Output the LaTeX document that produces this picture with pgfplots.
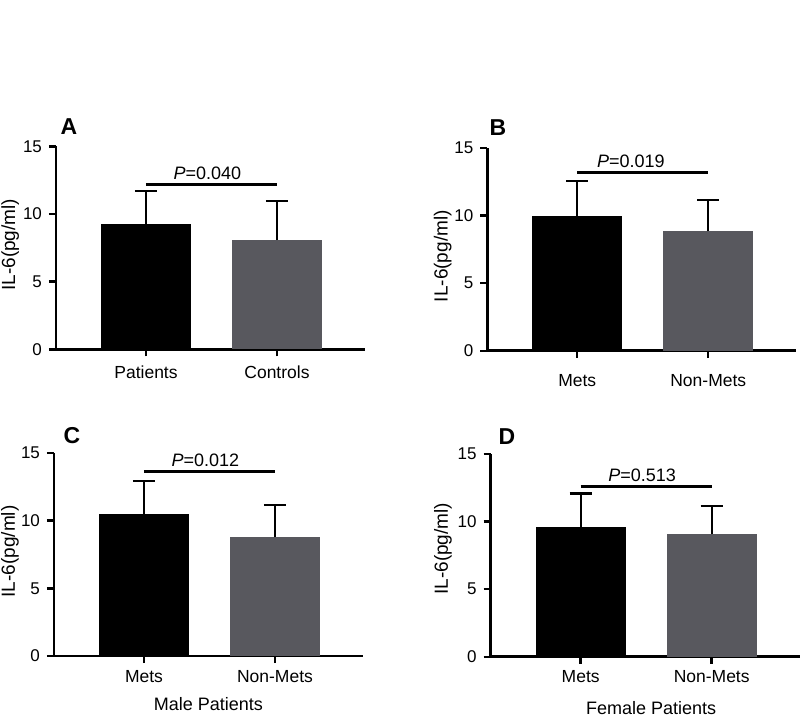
\documentclass[border=0pt]{standalone}
\usepackage{pgfplots}
\pgfplotsset{compat=1.18}
\usepackage{fontspec}
\setmainfont{Liberation Sans}
\definecolor{bargrey}{RGB}{88,88,94}
% error marks of y error bars are rotated by 90 degrees: (0,-s) ends up at (s,0)
\pgfdeclareplotmark{rcap}{%
  \pgfpathmoveto{\pgfqpoint{0pt}{0pt}}%
  \pgfpathlineto{\pgfqpoint{0pt}{-\pgfplotmarksize}}%
  \pgfusepathqstroke}
\pgfplotsset{
  panel/.style={
    scale only axis, width=154.5pt, height=101.5pt,
    xmin=-0.687, xmax=1.672, ymin=0, ymax=15,
    axis lines=left, axis line style={-, line width=1.3pt, black},
    ytick={0,5,10,15}, xtick={0,1},
    tick align=outside, major tick length=3.5pt,
    tick style={line width=1.2pt, black},
    yticklabel style={font=\fontsize{8.5}{10}\selectfont},
    xticklabel style={font=\fontsize{8.75}{10}\selectfont},
    /pgf/number format/assume math mode=true,
    clip=false,
    anchor=south west,
    ylabel={IL-6(pg/ml)},
  },
  ylab/.style 2 args={every axis y label/.style={at={(rel axis cs:0,0.5)}, xshift=#1, yshift=#2, rotate=90, anchor=center, font=\fontsize{9.5}{11}\selectfont}},
  xlab/.style 2 args={every axis x label/.style={at={(rel axis cs:0.5,0)}, xshift=#1, yshift=#2, anchor=center, font=\fontsize{9}{10}\selectfont}},
  mybar/.style={ybar, bar width=45pt, bar shift=0pt, draw=none, fill=#1,
    error bars/.cd, y dir=plus, y explicit,
    error bar style={draw=black, line width=1.1pt},
    error mark=rcap, error mark options={draw=black, line width=1.1pt, mark size=11pt}},
  sig/.style={black, line width=1.5pt, no marks},
}
\begin{document}
\begin{tikzpicture}
\path[use as bounding box] (0pt,0pt) rectangle (402.5pt,360pt);

% Panel A
\begin{axis}[panel, at={(28pt,185.35pt)}, ylab={-22.85pt}{1.5pt},
  xticklabels={Patients,Controls}, xticklabel style={yshift=-1pt}]
\addplot[mybar=black] coordinates {(0,9.23) +- (0,2.47)};
\addplot[mybar=bargrey] coordinates {(1,8.07) +- (0,2.91)};
\addplot[sig] coordinates {(0,12.19) (1,12.19)};
\node[anchor=base, xshift=-2pt, yshift=2.5pt, font=\fontsize{9}{10}\selectfont] at (axis cs:0.5,12.19) {\textit{P}=0.040};
\node[xshift=6.5pt, yshift=10pt, font=\bfseries\fontsize{11.5}{13}\selectfont] at (rel axis cs:0,1) {A};
\end{axis}

% Panel B
\begin{axis}[panel, at={(243.65pt,184.65pt)}, ylab={-22.3pt}{-3.5pt},
  xticklabels={Mets,Non-Mets}, xticklabel style={yshift=-5pt}]
\addplot[mybar=black] coordinates {(0,9.96) +- (0,2.57)};
\addplot[mybar=bargrey] coordinates {(1,8.82) +- (0,2.33)};
\addplot[sig] coordinates {(0,13.16) (1,13.16)};
\node[anchor=base, xshift=-6pt, yshift=2.5pt, font=\fontsize{9}{10}\selectfont] at (axis cs:0.5,13.16) {\textit{P}=0.019};
\node[xshift=5.35pt, yshift=10pt, font=\bfseries\fontsize{11.5}{13}\selectfont] at (rel axis cs:0,1) {B};
\end{axis}

% Panel C
\begin{axis}[panel, at={(27pt,32pt)}, ylab={-22pt}{1.5pt},
  xticklabels={Mets,Non-Mets}, xlab={0pt}{-24pt}, xlabel={Male Patients}]
\addplot[mybar=black] coordinates {(0,10.46) +- (0,2.48)};
\addplot[mybar=bargrey] coordinates {(1,8.76) +- (0,2.41)};
\addplot[sig] coordinates {(0,13.67) (1,13.67)};
\node[anchor=base, xshift=-2pt, yshift=2.5pt, font=\fontsize{9}{10}\selectfont] at (axis cs:0.5,13.67) {\textit{P}=0.012};
\node[xshift=9pt, yshift=8.65pt, font=\bfseries\fontsize{11.5}{13}\selectfont] at (rel axis cs:0,1) {C};
\end{axis}

% Panel D
\begin{axis}[panel, at={(245.35pt,31.65pt)}, ylab={-23.85pt}{3.25pt},
  xticklabels={Mets,Non-Mets}, xlab={3pt}{-25.65pt}, xlabel={Female Patients}]
\addplot[mybar=black] coordinates {(0,9.59) +- (0,2.47)};
\addplot[mybar=bargrey] coordinates {(1,9.03) +- (0,2.10)};
\addplot[sig] coordinates {(0,12.57) (1,12.57)};
\node[anchor=base, xshift=-2pt, yshift=2.5pt, font=\fontsize{9}{10}\selectfont] at (axis cs:0.5,12.57) {\textit{P}=0.513};
\node[xshift=8.15pt, yshift=8.65pt, font=\bfseries\fontsize{11.5}{13}\selectfont] at (rel axis cs:0,1) {D};
\end{axis}
\end{tikzpicture}
\end{document}
